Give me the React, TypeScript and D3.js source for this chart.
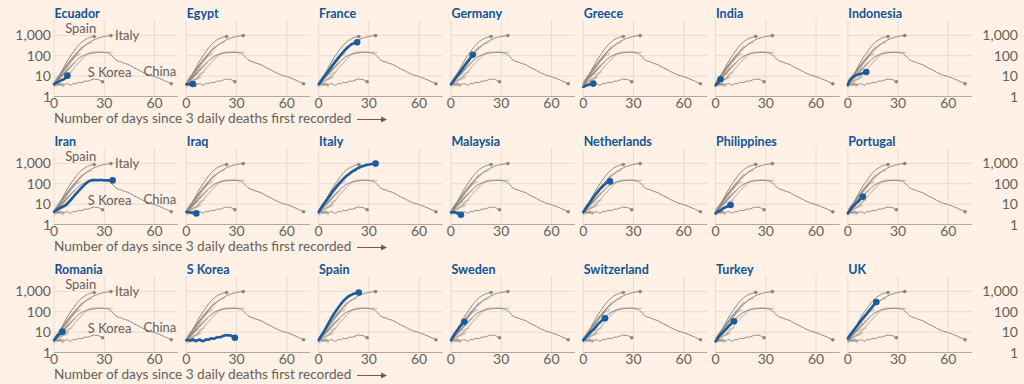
import React from 'react';
import * as d3 from 'd3';

// ---- Data (7-day average daily deaths, by days since 3 daily deaths first recorded) ----
const china = [4, 5, 6, 7.5, 9, 11, 14, 17, 21, 25, 30, 37, 45, 54, 64, 75, 86, 96, 105, 113, 120, 126, 131, 135, 139, 142, 146, 149, 145, 149, 144, 140, 135, 128, 110, 92, 75, 62, 55, 52, 50, 46, 42, 40, 38, 35, 31, 28, 25, 23, 21, 19, 17, 15.5, 14, 13, 12, 11, 10.5, 10, 9.4, 8.8, 8.2, 7.6, 7, 6.5, 6, 5.5, 5, 4.6, 4.2];
const skorea = [4, 4.2, 3.8, 4, 4.4, 3.9, 3.7, 4.1, 4.3, 3.8, 3.6, 4, 4.4, 4.2, 4.6, 5, 4.7, 4.9, 5.4, 5.8, 5.5, 6, 6.4, 6.9, 7.2, 6.8, 7, 6.5, 5.8, 5.3];
const spain = [4, 5.5, 7.5, 10, 14, 20, 28, 40, 55, 75, 100, 130, 170, 220, 280, 350, 420, 500, 570, 640, 700, 760, 810, 850, 880];
const italy = [4, 5.5, 7.5, 10, 13, 17, 22, 29, 38, 49, 62, 78, 97, 120, 147, 178, 212, 250, 292, 338, 388, 440, 495, 550, 605, 660, 710, 755, 800, 840, 875, 905, 930, 950, 965];
const iran = [4.2, 4.8, 5.4, 6, 6.7, 7.4, 8.2, 8.9, 10.5, 13, 16, 20, 25, 31, 38, 47, 58, 70, 85, 102, 120, 135, 145, 150, 152, 150, 148, 150, 153, 150, 147, 145, 146, 148, 146, 145];
const france = [4, 5, 6.5, 8.5, 11, 14, 18, 23, 30, 39, 50, 63, 80, 102, 128, 160, 195, 235, 285, 335, 375, 405, 430, 450];
const germany = [4, 5, 6.5, 8.5, 11, 14, 18, 23, 30, 39, 50, 64, 85, 112];
const netherlands = [4, 5.3, 7, 9.3, 12, 16, 21, 27, 34, 43, 54, 66, 80, 94, 108, 120, 130];
const uk = [5, 6.5, 8.5, 11, 14, 18, 23, 30, 38, 48, 60, 75, 95, 120, 150, 190, 240, 300];
const sweden = [4, 5.5, 7.5, 10, 13, 17, 21, 26, 32];
const switzerland = [4, 5, 6, 7.5, 9, 11, 13, 16, 20, 25, 30, 36, 42, 48];
const turkey = [3.5, 4.5, 6, 7.5, 9, 11, 13.5, 16, 20, 24, 29, 34];
const portugal = [3.5, 4.5, 6, 7.5, 9, 11, 13, 16, 19, 23];
const philippines = [3.5, 4, 4.5, 5, 5.5, 6.5, 7, 7.5, 8.5, 9];
const romania = [4, 5, 6.5, 7.5, 9, 10.5];
const malaysia = [4, 4, 4, 3.8, 3.5, 3.2, 3];
const iraq = [4.2, 4, 4, 3.8, 3.7, 3.6, 3.5];
const egypt = [4, 4, 3.9, 4, 4.1];
const greece = [3, 3.2, 3.5, 3.7, 4, 4.2, 4.3];
const india = [3.5, 4.2, 5, 7];
const indonesia = [3.6, 6, 7.5, 9, 10, 11, 11.8, 12.4, 13, 14, 15, 16];
const ecuador = [4, 4.5, 5, 5.5, 6, 6.5, 7, 8.5, 10.5];

const panelNames = [
  'Ecuador', 'Egypt', 'France', 'Germany', 'Greece', 'India', 'Indonesia',
  'Iran', 'Iraq', 'Italy', 'Malaysia', 'Netherlands', 'Philippines', 'Portugal',
  'Romania', 'S Korea', 'Spain', 'Sweden', 'Switzerland', 'Turkey', 'UK',
];
const panelValues = [
  ecuador, egypt, france, germany, greece, india, indonesia,
  iran, iraq, italy, malaysia, netherlands, philippines, portugal,
  romania, skorea, spain, sweden, switzerland, turkey, uk,
];
const referenceNames = ['China', 'S Korea', 'Spain', 'Italy'];
const referenceValues = [china, skorea, spain, italy];

const yTicks = [1, 10, 100, 1000];
const yTickLabels = ['1', '10', '100', '1,000'];
const xTicks = [0, 30, 60];
const xTitle = 'Number of days since 3 daily deaths first recorded';

// ---- Layout ----
const W = 1024;
const H = 384;
const COLS = 7;
const colX0 = 54;
const colStep = 132.3;
const plotW = 124;
const rowStep = 128;
const yBottom = 96.5;
const yTopPx = 20;
const decade = 20.4;
const xMax = 74;
const yMax = Math.pow(10, (yBottom - yTopPx) / decade);

const BG = '#fff1e5';
const GRID = '#e8dbcf';
const AXIS = '#b3a89f';
const TEXT = '#66605c';
const BLUE = '#0f5499';
const LINE_BLUE = '#1b5c9e';
const DARK = '#8e8780';
const LIGHT = 'rgba(150,138,128,0.42)';
const FONT = 'Lato, "Open Sans", sans-serif';

function Panel({ index }: { index: number }) {
  const col = index % COLS;
  const row = Math.floor(index / COLS);
  const x0 = colX0 + col * colStep;
  const oy = row * rowStep;
  const x = d3.scaleLinear().domain([0, xMax]).range([x0, x0 + plotW]);
  const y = d3.scaleLog().domain([1, yMax]).range([yBottom + oy, yTopPx + oy]);
  const line = d3
    .line<number>()
    .x((_, i) => x(i))
    .y((v) => y(v))
    .curve(d3.curveMonotoneX);

  const name = panelNames[index];
  const own = panelValues[index];
  const lightSeries = panelValues.filter(
    (_, i) => i !== index && !referenceNames.includes(panelNames[i])
  );
  const end = (arr: number[]) => [x(arr.length - 1), y(arr[arr.length - 1])];

  const [spX, spY] = end(spain);
  const [itX, itY] = end(italy);
  const [skX, skY] = end(skorea);
  const [chX, chY] = end(china);

  return (
    <g>
      {/* gridlines */}
      {yTicks.slice(1).map((t) => (
        <line key={'h' + t} x1={x(0)} x2={x(xMax)} y1={y(t)} y2={y(t)} stroke={GRID} strokeWidth={1} />
      ))}
      {xTicks.map((t) => (
        <line key={'v' + t} x1={x(t)} x2={x(t)} y1={y(yMax)} y2={y(1)} stroke={GRID} strokeWidth={1} />
      ))}
      <line x1={x(0)} x2={x(xMax)} y1={y(1)} y2={y(1)} stroke={AXIS} strokeWidth={1} />
      {/* x tick labels */}
      {xTicks.map((t) => (
        <text key={'xt' + t} x={x(t)} y={108 + oy} textAnchor="middle" fontSize={14} fill={TEXT} fontFamily={FONT}>
          {t}
        </text>
      ))}
      {/* y tick labels */}
      {col === 0 &&
        yTicks.map((t, i) => (
          <text key={'yl' + t} x={x0 - 3} y={y(t)} dy="0.36em" textAnchor="end" fontSize={14} fill={TEXT} fontFamily={FONT}>
            {yTickLabels[i]}
          </text>
        ))}
      {col === COLS - 1 &&
        yTicks.map((t, i) => (
          <text key={'yr' + t} x={1018} y={y(t)} dy="0.36em" textAnchor="end" fontSize={14} fill={TEXT} fontFamily={FONT}>
            {yTickLabels[i]}
          </text>
        ))}
      {/* title */}
      <text x={x0 + 0.5} y={18.3 + oy} fontSize={12.5} fontWeight={700} fill={BLUE} fontFamily={FONT}>
        {name}
      </text>
      {/* light background lines */}
      {lightSeries.map((s, i) => (
        <path key={'l' + i} d={line(s) || ''} fill="none" stroke={LIGHT} strokeWidth={1.3} />
      ))}
      {/* reference lines */}
      {referenceValues.map((s, i) => {
        const [ex, ey] = end(s);
        return (
          <g key={'r' + i}>
            <path d={line(s) || ''} fill="none" stroke={DARK} strokeWidth={1} />
            <circle cx={ex} cy={ey} r={1.8} fill={DARK} />
          </g>
        );
      })}
      {/* highlighted country */}
      <path d={line(own) || ''} fill="none" stroke={LINE_BLUE} strokeWidth={2.6} strokeLinecap="round" strokeLinejoin="round" />
      <circle cx={end(own)[0]} cy={end(own)[1]} r={3.3} fill={LINE_BLUE} />
      {/* reference labels in first column */}
      {col === 0 && (
        <g fontSize={13} fill={TEXT} fontFamily={FONT}>
          <text x={spX + 2} y={spY - 3.5} textAnchor="end">Spain</text>
          <text x={itX + 4} y={itY} dy="0.35em">Italy</text>
          <text x={skX + 7} y={skY - 5} textAnchor="middle">S Korea</text>
          <text x={chX + 5} y={chY - 8} textAnchor="end">China</text>
        </g>
      )}
      {/* x axis title */}
      {col === 0 && (
        <g>
          <text x={x0} y={123 + oy} fontSize={13.6} fill={TEXT} fontFamily={FONT}>
            {xTitle}
          </text>
          <line x1={357} x2={383} y1={119.5 + oy} y2={119.5 + oy} stroke={TEXT} strokeWidth={1} />
          <path d={`M${387},${119.5 + oy} L${381},${116.5 + oy} L${381},${122.5 + oy} Z`} fill={TEXT} />
        </g>
      )}
    </g>
  );
}

export default function App() {
  React.useEffect(() => {
    document.body.style.margin = '0';
    document.body.style.background = BG;
  }, []);
  return (
    <svg width={W} height={H} style={{ position: 'absolute', left: 0, top: 0, display: 'block' }}>
      <rect x={0} y={0} width={W} height={H} fill={BG} />
      {panelNames.map((_, i) => (
        <Panel key={i} index={i} />
      ))}
    </svg>
  );
}
